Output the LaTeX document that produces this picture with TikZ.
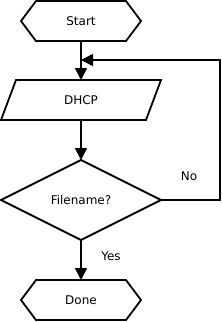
\documentclass[tikz,border=0pt]{standalone}
\usepackage{fontspec}
\setmainfont{DejaVu Sans}
\usetikzlibrary{shapes.geometric,arrows.meta,calc}
\begin{document}
\begin{tikzpicture}[x=1pt,y=-1pt,
  every node/.style={font=\fontsize{12}{14}\selectfont, inner sep=0pt, outer sep=0pt},
  box/.style={minimum width=#1, minimum height=40pt},
  ln/.style={line width=1.8pt, line join=miter},
  arr/.style={line width=1.8pt, -{Triangle[length=12pt,width=12pt]}},
  decision/.style={diamond, draw, line width=1.8pt, minimum width=160pt, minimum height=80pt, aspect=2}]
\useasboundingbox (0,0) rectangle (222,322);
% nodes
\node[box=120pt] (start) at (81,21) {Start};
\node[box=160pt] (dhcp) at (81,100) {DHCP};
\node[decision] (fn) at (81,200) {Filename?};
\node[box=120pt] (done) at (81,300) {Done};
\node (no) at (189,176) {No};
\node (yes) at (111,256) {Yes};
\coordinate (corner) at (220,60);
% shapes
\draw[ln] (start.west) -- ([xshift=15pt]start.north west) -- ([xshift=-15pt]start.north east) -- (start.east) -- ([xshift=-15pt]start.south east) -- ([xshift=15pt]start.south west) -- cycle;
\draw[ln] (done.west) -- ([xshift=15pt]done.north west) -- ([xshift=-15pt]done.north east) -- (done.east) -- ([xshift=-15pt]done.south east) -- ([xshift=15pt]done.south west) -- cycle;
\draw[ln] ([xshift=15pt]dhcp.north west) -- (dhcp.north east) -- ([xshift=-15pt]dhcp.south east) -- (dhcp.south west) -- cycle;
% connectors
\draw[arr] (start) -- (dhcp);
\draw[arr] (dhcp) -- (fn);
\draw[arr] (fn) -- (done);
\draw[arr] (fn.east) -| (corner) -- (corner -| start.south);
\end{tikzpicture}
\end{document}
